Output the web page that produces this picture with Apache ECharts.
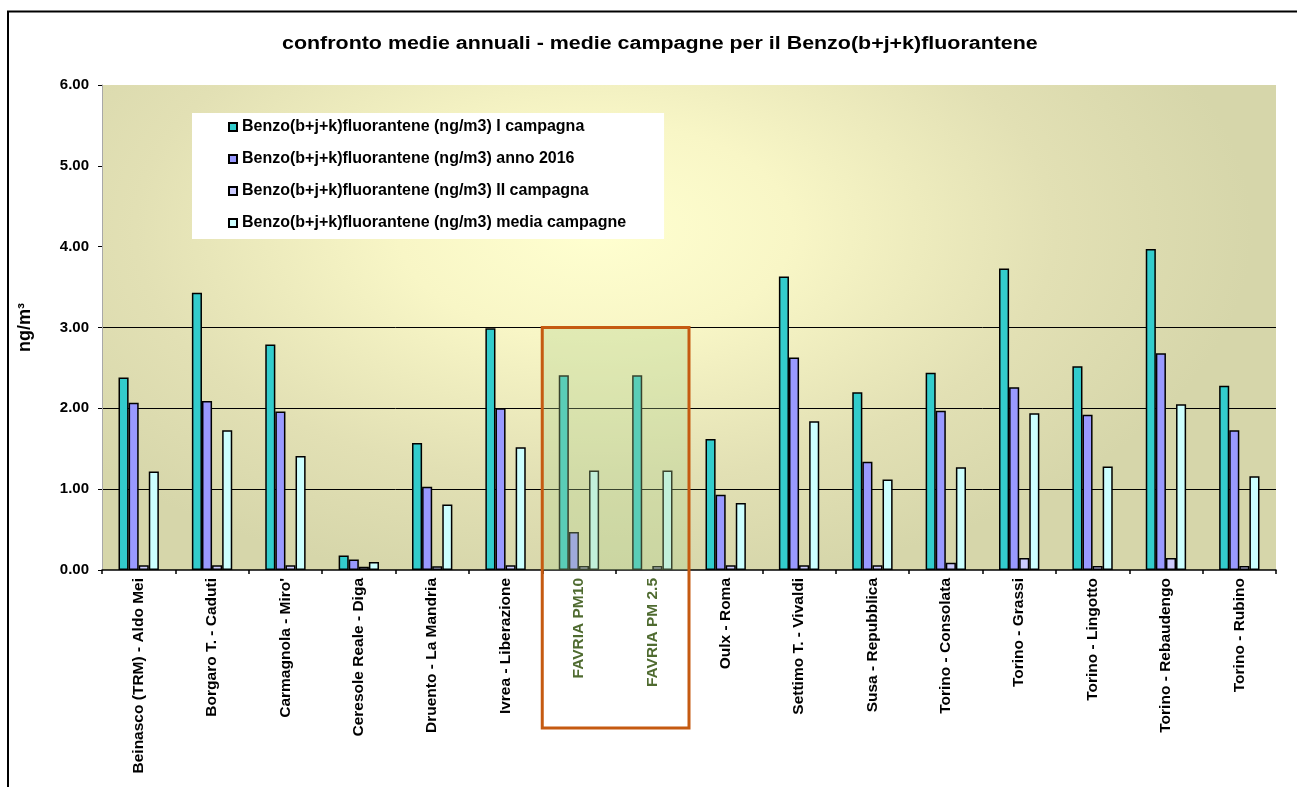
<!DOCTYPE html>
<html>
<head>
<meta charset="utf-8">
<script src="https://cdn.jsdelivr.net/npm/echarts@6/dist/echarts.min.js"></script>
<style>
  html, body { margin: 0; padding: 0; background: #ffffff; }
  #chart { width: 1297px; height: 787px; }
</style>
</head>
<body>
<div id="chart"></div>
<script>
const titleText = "confronto medie annuali - medie campagne per il Benzo(b+j+k)fluorantene";
const yAxisName = "ng/m³";
const categories = [
  "Beinasco (TRM) - Aldo Mei", "Borgaro T. - Caduti", "Carmagnola - Miro'",
  "Ceresole Reale - Diga", "Druento - La Mandria", "Ivrea - Liberazione",
  "FAVRIA PM10", "FAVRIA PM 2.5", "Oulx - Roma", "Settimo T. - Vivaldi",
  "Susa - Repubblica", "Torino - Consolata", "Torino - Grassi",
  "Torino - Lingotto", "Torino - Rebaudengo", "Torino - Rubino"
];
const highlighted = ["FAVRIA PM10", "FAVRIA PM 2.5"];
const seriesNames = [
  "Benzo(b+j+k)fluorantene (ng/m3) I campagna",
  "Benzo(b+j+k)fluorantene (ng/m3) anno 2016",
  "Benzo(b+j+k)fluorantene (ng/m3) II campagna",
  "Benzo(b+j+k)fluorantene (ng/m3) media campagne"
];
const iCampagna  = [2.38, 3.43, 2.79, 0.18, 1.57, 2.99, 2.41, 2.41, 1.62, 3.63, 2.20, 2.44, 3.73, 2.52, 3.97, 2.28];
const anno2016   = [2.07, 2.09, 1.96, 0.13, 1.03, 2.00, 0.47, null, 0.93, 2.63, 1.34, 1.97, 2.26, 1.92, 2.68, 1.73];
const iiCampagna = [0.06, 0.06, 0.06, 0.04, 0.045, 0.06, 0.05, 0.05, 0.06, 0.06, 0.06, 0.09, 0.15, 0.05, 0.15, 0.05];
const mediaCamp  = [1.22, 1.73, 1.41, 0.10, 0.81, 1.52, 1.23, 1.23, 0.83, 1.84, 1.12, 1.27, 1.94, 1.28, 2.05, 1.16];
const yTicks = [0, 1, 2, 3, 4, 5, 6];

const colors = ["#33cccc", "#9999ff", "#ccccff", "#ccffff"];
const FONT = "'Liberation Sans', Arial, sans-serif";

const chart = echarts.init(document.getElementById("chart"), null, { renderer: "canvas" });

const seriesData = [iCampagna, anno2016, iiCampagna, mediaCamp];
const series = seriesData.map((d, i) => ({
  name: seriesNames[i],
  type: "bar",
  data: d,
  barGap: "0%",
  barCategoryGap: "45%",
  itemStyle: { color: colors[i], borderColor: "#000", borderWidth: 1.5 },
  emphasis: { disabled: true },
  z: 2
}));

chart.setOption({
  animation: false,
  backgroundColor: "#ffffff",
  grid: { left: 102, right: 21, top: 85, bottom: 217, containLabel: false },
  legend: {
    orient: "vertical",
    left: 192, top: 113,
    padding: [6, 38, 8, 36],
    backgroundColor: "#ffffff",
    itemWidth: 8, itemHeight: 8, itemGap: 16,
    icon: "rect",
    textStyle: { fontFamily: FONT, fontWeight: "bold", fontSize: 16, lineHeight: 16, color: "#000" },
    data: seriesNames
  },
  xAxis: {
    type: "category",
    data: categories.map(c => highlighted.includes(c)
      ? { value: c, textStyle: { color: "#4f6b30" } }
      : c),
    axisLine: { lineStyle: { color: "#000", width: 1.5 } },
    axisTick: { show: true, length: 4, lineStyle: { color: "#000", width: 1.5 } },
    axisLabel: { rotate: 90, margin: 8, interval: 0, fontFamily: FONT, fontWeight: "bold", fontSize: 15.5, color: "#000" }
  },
  yAxis: {
    type: "value",
    min: yTicks[0], max: yTicks[yTicks.length - 1], interval: 1,
    name: yAxisName,
    nameLocation: "middle",
    nameRotate: 90,
    nameGap: 68,
    nameTextStyle: { fontFamily: FONT, fontWeight: "bold", fontSize: 18, color: "#000" },
    axisLine: { show: true, lineStyle: { color: "#a8a8a8", width: 1 } },
    axisTick: { show: true, length: 4, lineStyle: { color: "#000" } },
    axisLabel: { margin: 13, fontFamily: FONT, fontWeight: "bold", fontSize: 15, color: "#000",
                 formatter: v => v.toFixed(2) },
    splitLine: { show: true, lineStyle: { color: ["rgba(0,0,0,0)", "#000", "#000", "#000", "rgba(0,0,0,0)", "rgba(0,0,0,0)", "rgba(0,0,0,0)"], width: 1 } }
  },
  series: series
});

// Derived annotation geometry from the axes
const idx0 = categories.indexOf(highlighted[0]);
const idx1 = categories.indexOf(highlighted[highlighted.length - 1]);
const cx0 = chart.convertToPixel({ xAxisIndex: 0 }, idx0);
const cx1 = chart.convertToPixel({ xAxisIndex: 0 }, idx1);
const cxA = chart.convertToPixel({ xAxisIndex: 0 }, 0);
const cxB = chart.convertToPixel({ xAxisIndex: 0 }, categories.length - 1);
const band = (cxB - cxA) / (categories.length - 1);
const plotLeft = cxA - band / 2, plotRight = cxB + band / 2;
const yTop = chart.convertToPixel({ yAxisIndex: 0 }, yTicks[yTicks.length - 1]);
const yZero = chart.convertToPixel({ yAxisIndex: 0 }, 0);
const yThree = chart.convertToPixel({ yAxisIndex: 0 }, 3);
const boxL = cx0 - band / 2, boxR = cx1 + band / 2;

const plotW = plotRight - plotLeft, plotH = yZero - yTop;
const sY = 0.55;

chart.setOption({
  graphic: [
    { // plot background, elliptical radial gradient
      type: "rect", z: -10, silent: true,
      x: plotLeft, y: yTop, scaleY: sY,
      shape: { x: 0, y: 0, width: plotW, height: plotH / sY },
      style: {
        fill: {
          type: "radial", global: true,
          x: plotW * 0.42, y: (plotH * 0.30) / sY, r: plotW * 0.56,
          colorStops: [
            { offset: 0, color: "#ffffd0" },
            { offset: 0.3, color: "#f8f6c6" },
            { offset: 0.7, color: "#e2e0b4" },
            { offset: 1, color: "#d6d6aa" }
          ]
        }
      }
    },
    { // green translucent overlay
      type: "rect", z: 10, silent: true,
      shape: { x: boxL, y: yThree, width: boxR - boxL, height: yZero - yThree },
      style: { fill: "rgba(175,208,140,0.32)" }
    },
    { // orange frame
      type: "rect", z: 11, silent: true,
      shape: { x: boxL, y: yThree, width: boxR - boxL, height: (yZero - yThree) + 158 },
      style: { fill: "none", stroke: "#c55a11", lineWidth: 3 }
    },
    { // outer frame
      type: "rect", z: 11, silent: true,
      shape: { x: 8, y: 11.5, width: 1320, height: 800 },
      style: { fill: "none", stroke: "#000", lineWidth: 2 }
    },
    { // title
      type: "text", z: 11, silent: true,
      x: 282, y: 44, scaleX: 1.19,
      style: { text: titleText, font: "bold 18px " + FONT, fill: "#000",
               textAlign: "left", textVerticalAlign: "middle" }
    }
  ]
});
</script>
</body>
</html>
